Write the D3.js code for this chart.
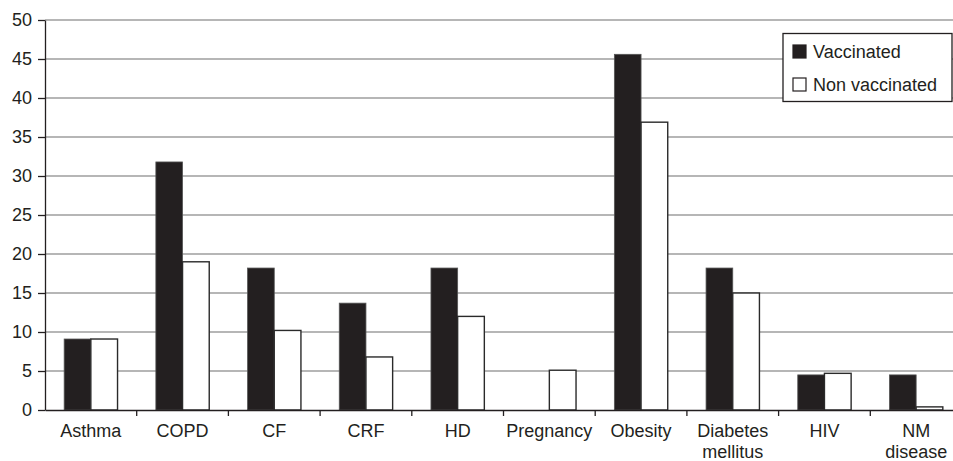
<!DOCTYPE html>
<html>
<head>
<meta charset="utf-8">
<script src="https://cdn.jsdelivr.net/npm/d3@7"></script>
<style>
  body { margin: 0; background: #fff; }
  svg { display: block; font-family: "Liberation Sans", Arial, sans-serif; }
</style>
</head>
<body>
<div id="chart"></div>
<script>
// data
const categories = ["Asthma", "COPD", "CF", "CRF", "HD", "Pregnancy", "Obesity", "Diabetes mellitus", "HIV", "NM disease"];
const vaccinated = [9.1, 31.8, 18.2, 13.7, 18.2, 0, 45.6, 18.2, 4.5, 4.5];
const nonVaccinated = [9.1, 19.0, 10.2, 6.8, 12.0, 5.1, 36.9, 15.0, 4.7, 0.4];
const series = ["Vaccinated", "Non vaccinated"];
const yTicks = [0, 5, 10, 15, 20, 25, 30, 35, 40, 45, 50];

const width = 953, height = 461;
let margin = ({top: 20, right: -9, bottom: 51, left: 45});

const svg = d3.select("#chart").append("svg")
    .attr("width", width)
    .attr("height", height);

let x0 = d3.scaleBand()
    .domain(categories)
    .range([margin.left, width - margin.right])
    .padding(0);

let barW = x0.bandwidth() * 0.291;
let x1 = d3.scaleBand()
    .domain(series)
    .range([x0.bandwidth() / 2 - barW, x0.bandwidth() / 2 + barW]);

let y = d3.scaleLinear()
    .domain([0, 50])
    .range([height - margin.bottom, margin.top]);

// gridlines
svg.append("g")
  .selectAll("line")
  .data(yTicks.slice(1))
  .enter().append("line")
    .attr("x1", margin.left)
    .attr("x2", width)
    .attr("y1", d => y(d))
    .attr("y2", d => y(d))
    .attr("stroke", "#6e6e6e")
    .attr("stroke-width", 1.1);

// bars
const rows = categories.map((c, i) => ({cat: c, values: [vaccinated[i], nonVaccinated[i]]}));
const groups = svg.append("g")
  .selectAll("g")
  .data(rows)
  .enter().append("g")
    .attr("transform", d => `translate(${x0(d.cat)},0)`);

groups.selectAll("rect")
  .data(d => d.values.map((v, j) => ({key: series[j], value: v})))
  .enter().append("rect")
    .filter(d => d.value > 0)
    .attr("x", d => x1(d.key))
    .attr("y", d => y(d.value))
    .attr("width", x1.bandwidth())
    .attr("height", d => y(0) - y(d.value))
    .attr("fill", d => d.key === "Vaccinated" ? "#231f20" : "#fff")
    .attr("stroke", d => d.key === "Vaccinated" ? "#555" : "#2a2a2a")
    .attr("stroke-width", d => d.key === "Vaccinated" ? 0.8 : 1.4);

// y axis
let yAxis = g => g
    .attr("transform", `translate(${margin.left},0)`)
    .call(d3.axisLeft(y).tickValues(yTicks).tickSize(7).tickPadding(6).tickSizeOuter(0))
    .call(g => g.selectAll("text").style("font-size", "18px").attr("fill", "#231f20"))
    .call(g => g.selectAll("line, path").attr("stroke", "#231f20").attr("stroke-width", 1.3));
svg.append("g").call(yAxis);

// x axis
let xAxis = g => g
    .attr("transform", `translate(0,${height - margin.bottom})`)
    .call(d3.axisBottom(x0).tickSize(0).tickSizeOuter(0).tickFormat(""))
    .call(g => g.select(".domain").attr("stroke", "#231f20").attr("stroke-width", 1.3));
svg.append("g").call(xAxis);

// tick marks between categories
svg.append("g")
  .selectAll("line")
  .data(categories.slice(1))
  .enter().append("line")
    .attr("x1", d => x0(d))
    .attr("x2", d => x0(d))
    .attr("y1", y(0))
    .attr("y2", y(0) + 6)
    .attr("stroke", "#231f20")
    .attr("stroke-width", 1.3);

// category labels, wrapped on two words where needed
const labels = svg.append("g")
  .selectAll("text")
  .data(categories)
  .enter().append("text")
    .attr("x", d => x0(d) + x0.bandwidth() / 2)
    .attr("y", y(0) + 27)
    .attr("text-anchor", "middle")
    .style("font-size", "18px")
    .attr("fill", "#231f20");

labels.each(function(d) {
  const words = d === "Pregnancy" ? [d] : d.split(" ");
  const t = d3.select(this);
  words.forEach((w, k) => {
    t.append("tspan")
      .attr("x", x0(d) + x0.bandwidth() / 2)
      .attr("dy", k === 0 ? 0 : 21)
      .text(w);
  });
});

// legend
const legend = svg.append("g").attr("transform", "translate(783,33.5)");
legend.append("rect")
    .attr("width", 169)
    .attr("height", 68)
    .attr("fill", "#fff")
    .attr("stroke", "#231f20")
    .attr("stroke-width", 1.3);

series.forEach((s, i) => {
  legend.append("rect")
      .attr("x", 10)
      .attr("y", 11.5 + i * 33)
      .attr("width", 13)
      .attr("height", 13)
      .attr("fill", i === 0 ? "#231f20" : "#fff")
      .attr("stroke", "#231f20")
      .attr("stroke-width", 1.2);
  legend.append("text")
      .attr("x", 30)
      .attr("y", 24 + i * 33)
      .style("font-size", "18px")
      .attr("fill", "#231f20")
      .text(s);
});
</script>
</body>
</html>
